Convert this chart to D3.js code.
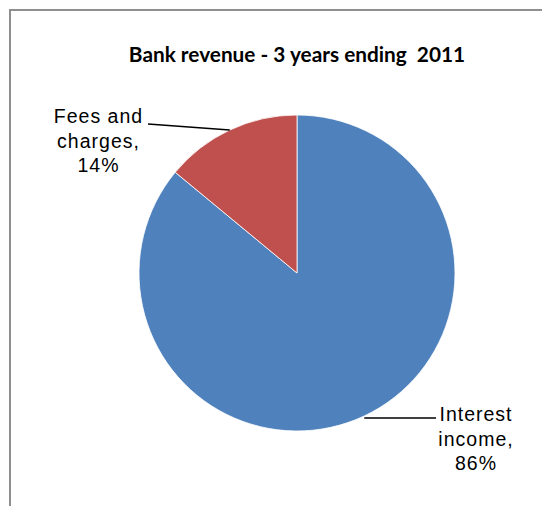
<!DOCTYPE html>
<html>
<head>
<meta charset="utf-8">
<script src="https://cdn.jsdelivr.net/npm/d3@7/dist/d3.min.js"></script>
<style>
  html, body { margin: 0; padding: 0; background: #fff; }
  svg { display: block; }
</style>
</head>
<body>
<script>
// Revenue split, share of total (%)
const categories = ["Interest income", "Fees and charges"];
const values = [86, 14];
const labelLines = [["Interest", "income,", "86%"], ["Fees and", "charges,", "14%"]];
const colors = ["#4F81BD", "#C0504D"];
const title = "Bank revenue - 3 years ending  2011";

const width = 542, height = 506;
const cx = 297, cy = 273, radius = 158;

const svg = d3.select("body").append("svg")
  .attr("width", width)
  .attr("height", height);

svg.append("rect").attr("width", width).attr("height", height).attr("fill", "#fff");

// chart area border (runs past the right and bottom edges)
svg.append("rect")
  .attr("x", 10).attr("y", 10)
  .attr("width", width + 20).attr("height", height + 20)
  .attr("fill", "none")
  .attr("stroke", "#8f8f8f")
  .attr("stroke-width", 2);

svg.append("text")
  .attr("x", cx).attr("y", 62)
  .attr("text-anchor", "middle")
  .attr("font-family", "Lato, 'Open Sans', sans-serif")
  .attr("font-weight", "bold")
  .attr("font-size", 20.8)
  .attr("fill", "#000")
  .style("white-space", "pre")
  .text(title);

const data = categories.map((c, i) => ({ name: c, value: values[i], color: colors[i], lines: labelLines[i] }));

const pie = d3.pie().value(d => d.value).sort(null);
const arcs = pie(data);
const arc = d3.arc().innerRadius(0).outerRadius(radius);

const g = svg.append("g").attr("transform", `translate(${cx},${cy})`);

g.selectAll("path.slice")
  .data(arcs)
  .join("path")
  .attr("class", "slice")
  .attr("d", arc)
  .attr("fill", d => d.data.color)
  .attr("stroke", "#fff")
  .attr("stroke-width", 0.8);

// label placement relative to the pie centre; leader runs from the slice's mid-arc point
const labelLayout = [
  { lineEndX: 139, lineDy: 2, textX: 179, firstBaseline: 148 },
  { lineEndX: -149, lineDy: null, lineEndY: -149, textX: -198.5, firstBaseline: -150 }
];

const lineH = 24.5;
arcs.forEach((a, i) => {
  const mid = (a.startAngle + a.endAngle) / 2;
  const px = Math.sin(mid) * radius;
  const py = -Math.cos(mid) * radius;
  const L = labelLayout[i];
  const y2 = L.lineDy !== null ? py + L.lineDy : L.lineEndY;
  const y1 = L.lineDy !== null ? py + L.lineDy : py;
  g.append("line")
    .attr("x1", px).attr("y1", y1)
    .attr("x2", L.lineEndX).attr("y2", y2)
    .attr("stroke", "#000")
    .attr("stroke-width", 1.6);
  const t = g.append("text")
    .attr("text-anchor", "middle")
    .attr("font-family", "'Liberation Sans', Arial, sans-serif")
    .attr("font-size", 19.5)
    .attr("letter-spacing", 1)
    .attr("fill", "#000");
  a.data.lines.forEach((ln, j) => {
    t.append("tspan")
      .attr("x", L.textX)
      .attr("y", L.firstBaseline + j * lineH)
      .text(ln);
  });
});
</script>
</body>
</html>
